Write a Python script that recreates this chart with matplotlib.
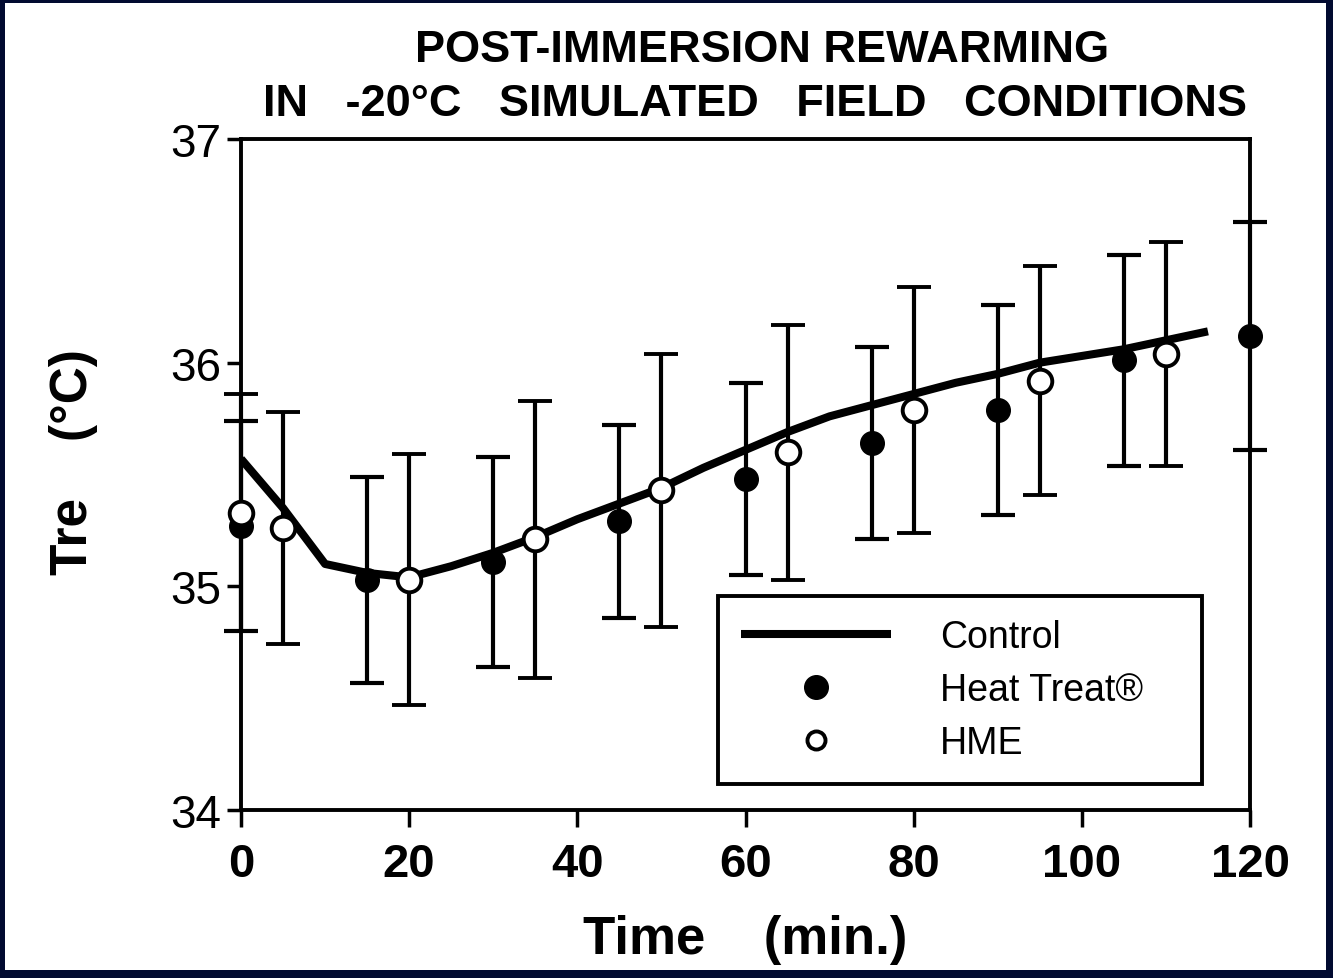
import matplotlib
matplotlib.use("Agg")
import matplotlib.pyplot as plt
from matplotlib.patches import Rectangle
from matplotlib.lines import Line2D

plt.rcParams['font.family'] = ['Liberation Sans', 'DejaVu Sans']

# Control group (line only), 5-min intervals
t_control = [0, 5, 10, 15, 20, 25, 30, 35, 40, 45, 50, 55,
             60, 65, 70, 75, 80, 85, 90, 95, 100, 105, 110, 115]
tre_control = [35.57, 35.35, 35.10, 35.06, 35.04, 35.09, 35.15, 35.22,
               35.30, 35.37, 35.44, 35.53, 35.61, 35.69, 35.76, 35.81,
               35.86, 35.91, 35.95, 36.00, 36.03, 36.06, 36.10, 36.14]

# Heat Treat group (mean +/- SD)
t_heat = [0, 15, 30, 45, 60, 75, 90, 105, 120]
tre_heat = [35.27, 35.03, 35.11, 35.29, 35.48, 35.64, 35.79, 36.01, 36.12]
sd_heat = [0.47, 0.46, 0.47, 0.43, 0.43, 0.43, 0.47, 0.47, 0.51]

# HME group (mean +/- SD)
t_hme = [0, 5, 20, 35, 50, 65, 80, 95, 110]
tre_hme = [35.33, 35.26, 35.03, 35.21, 35.43, 35.60, 35.79, 35.92, 36.04]
sd_hme = [0.53, 0.52, 0.56, 0.62, 0.61, 0.57, 0.55, 0.51, 0.50]

navy = '#010a30'

fig = plt.figure(figsize=(13.33, 9.79), dpi=100)
fig.patch.set_facecolor(navy)
fig.patches.append(Rectangle((5 / 1333, 8 / 979), 1321 / 1333, 967 / 979,
                             transform=fig.transFigure, facecolor='white',
                             edgecolor='none', zorder=-1))

ax = fig.add_axes([241 / 1333, 1 - 811 / 979, 1009 / 1333, 671 / 979])

ax.plot(t_control, tre_control, color='black', linewidth=5.8,
        solid_capstyle='butt', zorder=3)
ax.errorbar(t_heat, tre_heat, yerr=sd_heat, fmt='o', color='black',
            markersize=17, elinewidth=3, capsize=12, capthick=3,
            zorder=4, clip_on=False)
ax.errorbar(t_hme, tre_hme, yerr=sd_hme, fmt='o', color='black',
            markerfacecolor='white', markeredgecolor='black',
            markeredgewidth=2.8, markersize=17, elinewidth=3,
            capsize=12, capthick=3, zorder=4, clip_on=False)

ax.set_xlim(0, 120)
ax.set_ylim(34, 37)
ax.set_xticks([0, 20, 40, 60, 80, 100, 120])
ax.set_yticks([34, 35, 36, 37])
ax.set_xticklabels(['0', '20', '40', '60', '80', '100', '120'],
                   fontsize=34, fontweight='bold')
ax.set_yticklabels(['34', '35', '36', '37'], fontsize=33)
ax.tick_params(axis='x', direction='out', length=12, width=2.5, pad=11)
ax.tick_params(axis='y', direction='out', length=10, width=2.5, pad=4)

for side in ['left', 'right', 'top', 'bottom']:
    ax.spines[side].set_linewidth(2.8)

ax.set_xlabel('Time    (min.)', fontsize=38, fontweight='bold', labelpad=20)
ax.set_ylabel('Tre    (°C)', fontsize=37, fontweight='bold')
ax.yaxis.set_label_coords(-0.142, 0.52)

fig.text(762 / 1333, 1 - 51 / 979, 'POST-IMMERSION REWARMING',
         fontsize=32.5, fontweight='bold', ha='center', va='center')
fig.text(755 / 1333, 1 - 105 / 979, 'IN   -20°C   SIMULATED   FIELD   CONDITIONS',
         fontsize=32.5, fontweight='bold', ha='center', va='center')

legend_handles = [
    Line2D([], [], color='black', linewidth=5.8, solid_capstyle='butt'),
    Line2D([], [], linestyle='none', marker='o', color='black', markersize=17),
    Line2D([], [], linestyle='none', marker='o', markerfacecolor='white',
           markeredgecolor='black', markeredgewidth=2.8, markersize=13),
]
leg = ax.legend(legend_handles, ['Control', 'Heat Treat®', 'HME'],
                loc='lower left',
                bbox_to_anchor=(0.4727, 0.0387, 0.4793, 0.2758), mode='expand',
                fontsize=27, handlelength=4.0, handletextpad=1.3,
                labelspacing=0.45, borderpad=0.62, fancybox=False,
                framealpha=1, edgecolor='black', borderaxespad=0)
leg.get_frame().set_linewidth(2.8)

fig.savefig('out.png', dpi=100, facecolor=fig.get_facecolor())
